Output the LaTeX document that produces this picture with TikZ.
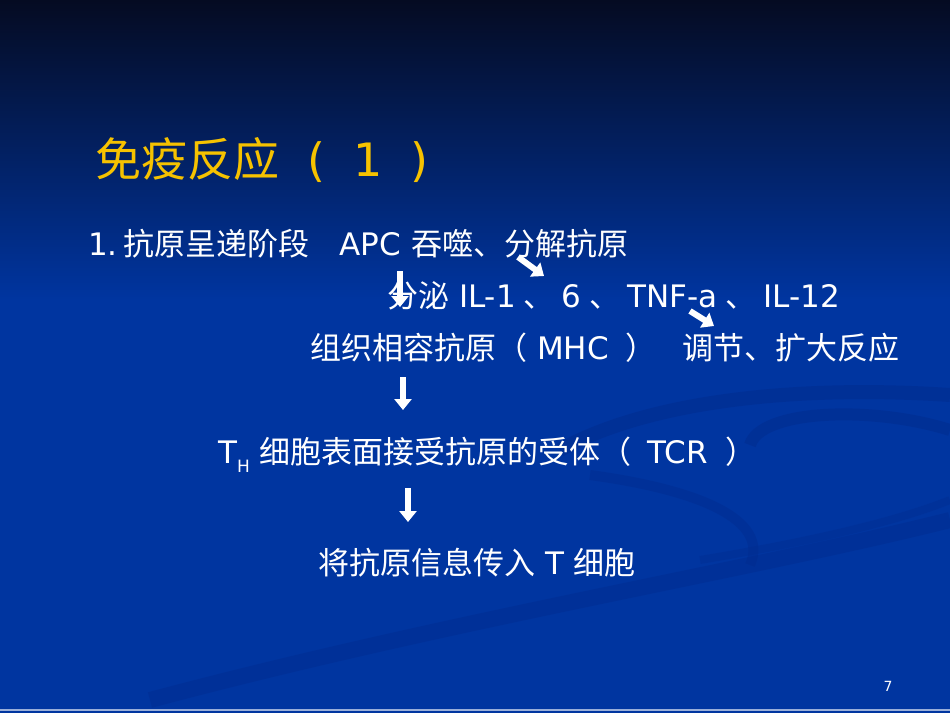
\documentclass[tikz,border=0pt]{standalone}
\usepackage{fontspec}
\setmainfont{DejaVu Sans}
\newfontfamily\zhfont{Noto Sans CJK SC}
\newcommand{\zh}[1]{{\zhfont #1}}
\usepackage{tikz}
\usetikzlibrary{arrows.meta}
\definecolor{slideblue}{HTML}{0035A0}
\definecolor{topnavy}{HTML}{050B22}
\definecolor{swoosh}{HTML}{002A8C}
\definecolor{titlegold}{HTML}{F6C200}

\begin{document}
\begin{tikzpicture}[x=1pt, y=-1pt,
        txt/.style={text=white, anchor=west, inner sep=0pt, font=\fontsize{31}{37}\selectfont},
        downarrow/.style={white, line width=6pt, -{Triangle[width=17pt, length=11pt]}}]
        \def\W{950}
        \def\H{713}

        % Background
        \useasboundingbox (0,0) rectangle (\W,\H);
        \fill[slideblue] (0,0) rectangle (\W,\H);
        \shade[top color=topnavy, bottom color=slideblue] (0,0) rectangle (\W,300);
        \draw[swoosh, line width=14pt, opacity=0.45] (560,450) .. controls (650,400) and (800,385) .. (\W,395);
        \draw[swoosh, line width=12pt, opacity=0.45] (750,445) .. controls (760,410) and (870,405) .. (\W,430);
        \draw[swoosh, line width=10pt, opacity=0.4] (590,475) .. controls (700,490) and (770,520) .. (750,565);
        \draw[swoosh, line width=16pt, opacity=0.4] (150,700) .. controls (450,620) and (750,570) .. (\W,520);
        \draw[swoosh, line width=8pt, opacity=0.3] (700,560) .. controls (820,540) and (900,520) .. (\W,500);
        \draw[white!60!slideblue, line width=1.5pt] (0,710) -- (\W,710);

        % Title
        \node[txt, text=titlegold, font=\fontsize{46}{54}\selectfont] (title) at (95,160)
            {\zh{免疫反应}\hspace{28pt}(\hspace{28pt}1\hspace{28pt})};

        % Text lines
        \node[txt] (stage) at (88,244) {1.\hspace{6pt}\zh{抗原呈递阶段}\hspace{30pt}APC \zh{吞噬、分解抗原}};
        \node[txt] (secrete) at (387,296) {\zh{分泌} IL-1\hspace{8pt}\zh{、}\hspace{7pt}6\hspace{8pt}\zh{、}\hspace{7pt}TNF-a\hspace{8pt}\zh{、}\hspace{7pt}IL-12};
        \node[txt] (mhc) at (310,348) {\zh{组织相容抗原（} MHC\hspace{17pt}\zh{）}\hspace{26pt}\zh{调节、扩大反应}};
        \node[txt] (tcr) at (218,455) {T\raisebox{-0.3em}{\fontsize{17}{17}\selectfont H} \zh{细胞表面接受抗原的受体（}\hspace{16pt}TCR\hspace{17pt}\zh{）}};
        \node[txt] (tcell) at (318,563) {\zh{将抗原信息传入} T \zh{细胞}};
        \node[text=white, inner sep=0pt, font=\fontsize{14}{16}\selectfont] (page) at (888,686) {7};

        % Arrows
        \coordinate (a1s) at (400,271);
        \coordinate (a1e) at (400,307);
        \coordinate (d1s) at (518,257);
        \coordinate (d1e) at (544,276);
        \coordinate (d2s) at (690,311);
        \coordinate (d2e) at (714,326);
        \coordinate (a2s) at (403,377);
        \coordinate (a2e) at (403,410);
        \coordinate (a3s) at (408,488);
        \coordinate (a3e) at (408,522);
        \draw[downarrow] (a1s) -- (a1e);
        \draw[downarrow] (d1s) -- (d1e);
        \draw[downarrow] (d2s) -- (d2e);
        \draw[downarrow] (a2s) -- (a2e);
        \draw[downarrow] (a3s) -- (a3e);
    \end{tikzpicture}
\end{document}
